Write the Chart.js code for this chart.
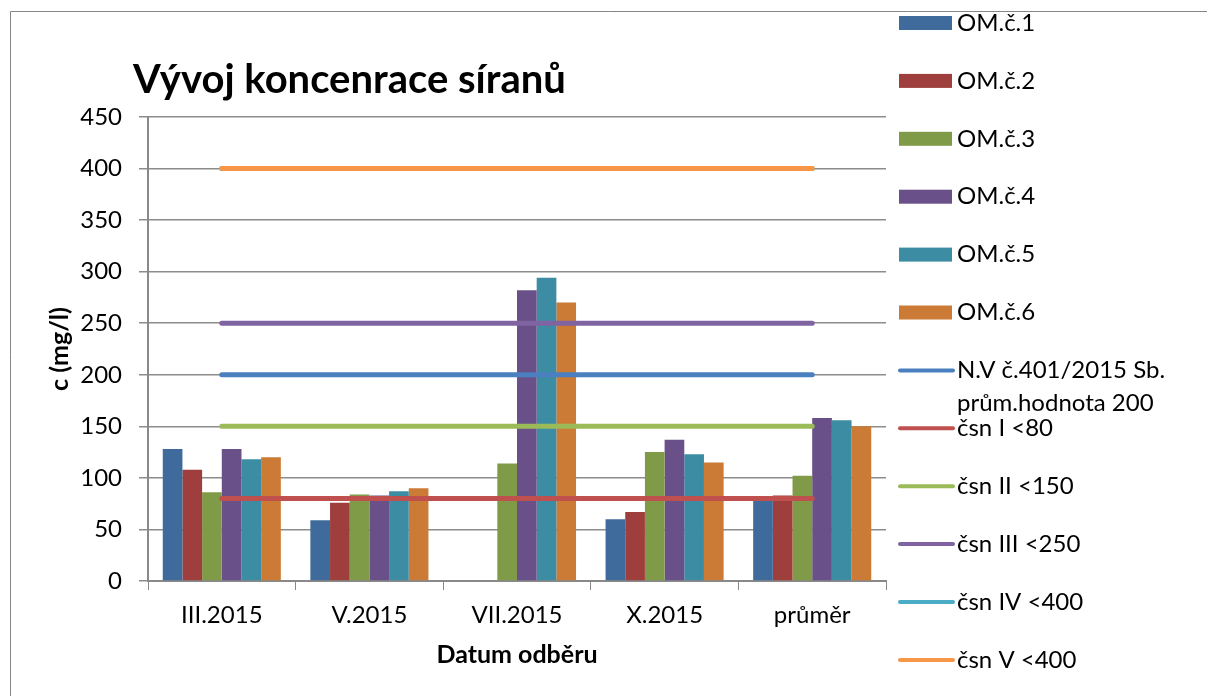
<!DOCTYPE html>
<html lang="cs">
<head>
  <meta charset="UTF-8" />
  <title>Vývoj koncenrace síranů</title>
  <style>
    body {
      margin: 0;
      padding: 0;
      background: #fff;
    }
    #wrap {
      width: 1207px;
      height: 696px;
    }
  </style>
</head>
<body>
  <div id="wrap">
    <canvas id="chart" width="1207" height="696"></canvas>
  </div>

  <script src="https://cdn.jsdelivr.net/npm/chart.js"></script>
  <script>
    const categories = ["III.2015", "V.2015", "VII.2015", "X.2015", "průměr"];

    const om1 = [128, 59, null, 60, 79];
    const om2 = [108, 76, null, 67, 83];
    const om3 = [86, 84, 114, 125, 102];
    const om4 = [128, 83, 282, 137, 158];
    const om5 = [118, 87, 294, 123, 156];
    const om6 = [120, 90, 270, 115, 150];

    const limitNV = [200, 200, 200, 200, 200];
    const limitI = [80, 80, 80, 80, 80];
    const limitII = [150, 150, 150, 150, 150];
    const limitIII = [250, 250, 250, 250, 250];
    const limitIV = [400, 400, 400, 400, 400];
    const limitV = [400, 400, 400, 400, 400];

    const FONT = "Lato";

    const barColors = ["#3f6b9c", "#9e3f3d", "#809b48", "#6a5088", "#3c8ca4", "#cc7b37"];
    const lineColors = ["#4a7fc0", "#c0504d", "#9bbb59", "#8064a2", "#4bacc6", "#f79646"];

    function bar(label, data, i) {
      return {
        type: "bar",
        label: label,
        data: data,
        backgroundColor: barColors[i],
        borderWidth: 0,
        order: 20,
        categoryPercentage: 0.8,
        barPercentage: 1.0
      };
    }

    function line(label, data, i) {
      return {
        type: "line",
        label: label,
        data: data,
        borderColor: lineColors[i],
        backgroundColor: lineColors[i],
        borderWidth: 5,
        borderCapStyle: "round",
        pointRadius: 0,
        fill: false,
        order: 10 - i
      };
    }

    // legend + title + frame drawn by hand, like the Excel original
    const decorations = {
      id: "decorations",
      afterDraw(chart) {
        const ctx = chart.ctx;
        ctx.save();

        ctx.strokeStyle = "#868686";
        ctx.lineWidth = 1;
        ctx.beginPath();
        ctx.moveTo(10.5, 700);
        ctx.lineTo(10.5, 11.5);
        ctx.lineTo(1210, 11.5);
        ctx.stroke();

        ctx.fillStyle = "#000";
        ctx.font = "bold 40px " + FONT;
        ctx.textBaseline = "alphabetic";
        ctx.textAlign = "left";
        ctx.fillText("Vývoj koncenrace síranů", 133, 93);

        ctx.font = "24px " + FONT;
        ctx.textBaseline = "middle";
        const step = 57.9;
        chart.data.datasets.forEach((ds, i) => {
          const y = 23 + step * i;
          if (ds.type === "bar") {
            ctx.fillStyle = ds.backgroundColor;
            ctx.fillRect(899, y - 7, 53, 14);
          } else {
            ctx.strokeStyle = ds.borderColor;
            ctx.lineWidth = 4;
            ctx.lineCap = "round";
            ctx.beginPath();
            ctx.moveTo(900, y);
            ctx.lineTo(953, y);
            ctx.stroke();
          }
          ctx.fillStyle = "#000";
          const parts = ds.legendText || [ds.label];
          parts.forEach((t, k) => ctx.fillText(t, 957, y + k * 33));
        });
        ctx.restore();
      }
    };

    const datasets = [
      bar("OM.č.1", om1, 0),
      bar("OM.č.2", om2, 1),
      bar("OM.č.3", om3, 2),
      bar("OM.č.4", om4, 3),
      bar("OM.č.5", om5, 4),
      bar("OM.č.6", om6, 5),
      line("N.V č.401/2015 Sb. prům.hodnota 200", limitNV, 0),
      line("čsn I <80", limitI, 1),
      line("čsn II <150", limitII, 2),
      line("čsn III <250", limitIII, 3),
      line("čsn IV <400", limitIV, 4),
      line("čsn V <400", limitV, 5)
    ];
    datasets[6].legendText = ["N.V č.401/2015 Sb.", "prům.hodnota 200"];

    new Chart(document.getElementById("chart").getContext("2d"), {
      type: "bar",
      data: { labels: categories, datasets: datasets },
      options: {
        responsive: false,
        animation: false,
        layout: {
          padding: { top: 117, right: 321, bottom: 0, left: 10 }
        },
        plugins: {
          legend: { display: false },
          tooltip: { enabled: false }
        },
        scales: {
          x: {
            offset: true,
            grid: {
              offset: true,
              drawOnChartArea: false,
              color: "#898989",
              tickLength: 9
            },
            border: { color: "#898989", width: 2 },
            ticks: {
              color: "#000",
              font: { family: FONT, size: 24 },
              padding: 11
            },
            title: {
              display: true,
              text: "Datum odběru",
              color: "#000",
              font: { family: FONT, size: 25, weight: "bold" },
              padding: { top: 0, bottom: 26 }
            },
            afterFit: s => { s.height = 115; }
          },
          y: {
            min: 0,
            max: 450,
            ticks: {
              stepSize: 50,
              color: "#000",
              font: { family: FONT, size: 24 },
              padding: 17
            },
            grid: {
              color: "#8c8c8c",
              lineWidth: 1.5,
              tickLength: 9
            },
            border: { color: "#898989", width: 2 },
            title: {
              display: true,
              text: "c (mg/l)",
              color: "#000",
              font: { family: FONT, size: 25, weight: "bold" },
              padding: { top: 35, bottom: 0 }
            },
            afterFit: s => { s.width = 138; }
          }
        }
      },
      plugins: [decorations]
    });
  </script>
</body>
</html>
